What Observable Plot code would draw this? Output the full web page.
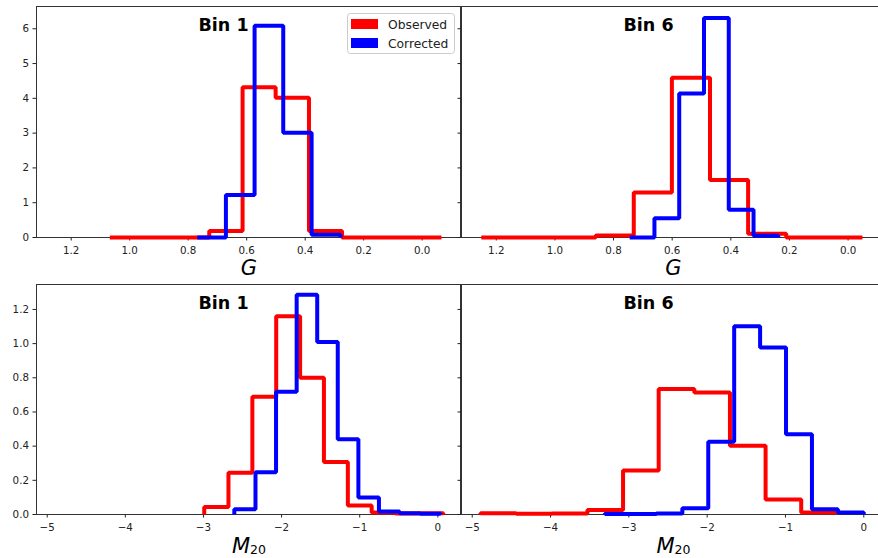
<!DOCTYPE html>
<html><head><meta charset="utf-8">
<script src="https://cdn.jsdelivr.net/npm/d3@7"></script>
<script src="https://cdn.jsdelivr.net/npm/@observablehq/plot@0.6"></script>
<style>
body{margin:0;background:#fff;overflow:hidden}
#fig{position:relative;width:878px;height:558px;overflow:hidden;background:#fff;font-family:"DejaVu Sans",sans-serif}
#fig svg{position:absolute}
</style></head><body><div id="fig"></div>
<script>
// ---- labels / series ----
const seriesNames = ["Observed", "Corrected"];
const seriesColors = ["#ff0000", "#0000ff"];
const panelTitles = ["Bin 1", "Bin 6"];

// ---- axes ----
const gTicks = [1.2, 1.0, 0.8, 0.6, 0.4, 0.2, 0.0];
const gDomain = [1.3186, -0.131];
const gYTicks = [0, 1, 2, 3, 4, 5, 6];
const gYDomain = [0, 6.64];
const m20Ticks = [-5, -4, -3, -2, -1, 0];
const m20Domain = [-5.137, 0.29];
const m20YTicks = [0, 0.2, 0.4, 0.6, 0.8, 1.0, 1.2];
const m20YDomain = [0, 1.346];

// ---- G, Bin 1 ----
const gBin1ObsEdges = [1.068, 0.955, 0.841, 0.728, 0.614, 0.501, 0.387, 0.274, 0.161, 0.047, -0.066];
const gBin1ObsValues = [0, 0, 0, 0.19, 4.32, 4.02, 0.19, 0, 0, 0];
const gBin1CorEdges = [0.769, 0.671, 0.573, 0.475, 0.378, 0.279];
const gBin1CorValues = [0, 1.22, 6.09, 3.01, 0.08];

// ---- G, Bin 6 ----
const gBin6ObsEdges = [1.251, 1.121, 0.991, 0.861, 0.731, 0.601, 0.471, 0.341, 0.211, 0.081, -0.049];
const gBin6ObsValues = [0, 0, 0, 0.06, 1.29, 4.59, 1.65, 0.11, 0, 0];
const gBin6CorEdges = [0.745, 0.6605, 0.576, 0.4915, 0.407, 0.3225, 0.238];
const gBin6CorValues = [0, 0.55, 4.14, 6.31, 0.80, 0.05];

// ---- M20, Bin 1 ----
const m20Bin1ObsEdges = [-2.99, -2.68, -2.374, -2.069, -1.763, -1.458, -1.152, -0.847, -0.541, -0.236, 0.07];
const m20Bin1ObsValues = [0.044, 0.245, 0.689, 1.16, 0.80, 0.307, 0.053, 0.012, 0.006, 0.008];
const m20Bin1CorEdges = [-2.605, -2.334, -2.071, -1.807, -1.544, -1.281, -1.017, -0.754, -0.490, -0.227, 0.036];
const m20Bin1CorValues = [0.03, 0.247, 0.718, 1.286, 1.01, 0.44, 0.099, 0.018, 0.008, 0.004];

// ---- M20, Bin 6 ----
const m20Bin6ObsEdges = [-4.894, -4.439, -3.984, -3.529, -3.074, -2.619, -2.164, -1.709, -1.254, -0.799, -0.344];
const m20Bin6ObsValues = [0.008, 0.004, 0.006, 0.027, 0.257, 0.735, 0.714, 0.403, 0.088, 0.012];
const m20Bin6CorEdges = [-3.31, -2.979, -2.648, -2.317, -1.986, -1.655, -1.324, -0.993, -0.662, -0.331, 0];
const m20Bin6CorValues = [0.003, 0.003, 0.006, 0.037, 0.426, 1.101, 0.977, 0.469, 0.031, 0.012];

function stepPoints(edges, values) {
  const pts = [{x: edges[0], y: 0}];
  values.forEach((v, i) => { pts.push({x: edges[i], y: v}); pts.push({x: edges[i + 1], y: v}); });
  pts.push({x: edges[edges.length - 1], y: 0});
  return pts;
}

const minusFmt = d => d < 0 ? "\u2212" + (-d) : String(d);
const fig = document.getElementById("fig");

function panel(o) {
  const svg = Plot.plot({
    width: o.width, height: 280,
    marginLeft: o.mL, marginRight: 0, marginTop: 6, marginBottom: o.mB,
    style: {background: "none", fontFamily: "DejaVu Sans", fontSize: "10.3px", color: "#222", maxWidth: "none", overflow: "visible"},
    x: {domain: o.xDomain, ticks: o.xTicks, tickFormat: o.xFmt, tickSize: 3.5, tickPadding: 6, label: null},
    y: {domain: o.yDomain, ticks: o.yTicks, tickFormat: o.showY ? o.yFmt : () => "", tickSize: 3.5, tickPadding: 4, label: null},
    marks: [
      Plot.frame({stroke: "#333", strokeWidth: 1}),
      ...o.series.map((s, i) => Plot.line(stepPoints(s.edges, s.values), {
        x: "x", y: "y", stroke: seriesColors[i], strokeWidth: 4, strokeLinejoin: "miter", strokeLinecap: "butt"
      })),
      Plot.text([o.title], {frameAnchor: "top-left", dx: 162, dy: 24.5, lineAnchor: "bottom", text: d => d,
        fontWeight: "bold", fontSize: 17.5, fill: "#000"})
    ]
  });
  svg.style.left = o.left + "px";
  svg.style.top = o.top + "px";
  fig.appendChild(svg);
  // x-axis label
  const t = d3.select(svg).append("text")
    .attr("x", o.labelX).attr("y", 275)
    .attr("text-anchor", "middle").attr("fill", "#000")
    .style("font-family", "DejaVu Sans").style("font-size", "21px");
  if (o.label === "G") {
    t.append("tspan").style("font-style", "italic").text("G");
  } else {
    t.append("tspan").style("font-style", "italic").text("M");
    t.append("tspan").attr("dy", 1).style("font-size", "12.5px").text("20");
  }
  return svg;
}

const pair = (oe, ov, ce, cv) => [{edges: oe, values: ov}, {edges: ce, values: cv}];

panel({left: 0, top: 0, width: 460, mL: 36, mB: 43, xDomain: gDomain, xTicks: gTicks, xFmt: d => d.toFixed(1),
  yDomain: gYDomain, yTicks: gYTicks, yFmt: d => String(d), showY: true, title: panelTitles[0],
  series: pair(gBin1ObsEdges, gBin1ObsValues, gBin1CorEdges, gBin1CorValues), label: "G", labelX: 249});
panel({left: 456, top: 0, width: 430, mL: 5, mB: 43, xDomain: gDomain, xTicks: gTicks, xFmt: d => d.toFixed(1),
  yDomain: gYDomain, yTicks: gYTicks, yFmt: d => String(d), showY: false, title: panelTitles[1],
  series: pair(gBin6ObsEdges, gBin6ObsValues, gBin6CorEdges, gBin6CorValues), label: "G", labelX: 217.5});
panel({left: 0, top: 278, width: 460, mL: 36, mB: 44, xDomain: m20Domain, xTicks: m20Ticks, xFmt: minusFmt,
  yDomain: m20YDomain, yTicks: m20YTicks, yFmt: d => d.toFixed(1), showY: true, title: panelTitles[0],
  series: pair(m20Bin1ObsEdges, m20Bin1ObsValues, m20Bin1CorEdges, m20Bin1CorValues), label: "M20", labelX: 249});
panel({left: 456, top: 278, width: 430, mL: 5, mB: 44, xDomain: m20Domain, xTicks: m20Ticks, xFmt: minusFmt,
  yDomain: m20YDomain, yTicks: m20YTicks, yFmt: d => d.toFixed(1), showY: false, title: panelTitles[1],
  series: pair(m20Bin6ObsEdges, m20Bin6ObsValues, m20Bin6CorEdges, m20Bin6CorValues), label: "M20", labelX: 217.5});

// ---- legend ----
const leg = d3.select(fig).append("svg").attr("width", 878).attr("height", 558)
  .style("left", "0px").style("top", "0px").style("pointer-events", "none");
leg.append("rect").attr("x", 347.5).attr("y", 13.5).attr("width", 107).attr("height", 40).attr("rx", 3)
  .attr("fill", "white").attr("fill-opacity", 0.8).attr("stroke", "#ccc");
seriesNames.forEach((name, i) => {
  leg.append("rect").attr("x", 351).attr("y", 19 + i * 19).attr("width", 27).attr("height", 10).attr("fill", seriesColors[i]);
  leg.append("text").attr("x", 388).attr("y", 29 + i * 19).attr("fill", "#222")
    .style("font-family", "DejaVu Sans").style("font-size", "12.3px").text(name);
});
</script></body></html>
